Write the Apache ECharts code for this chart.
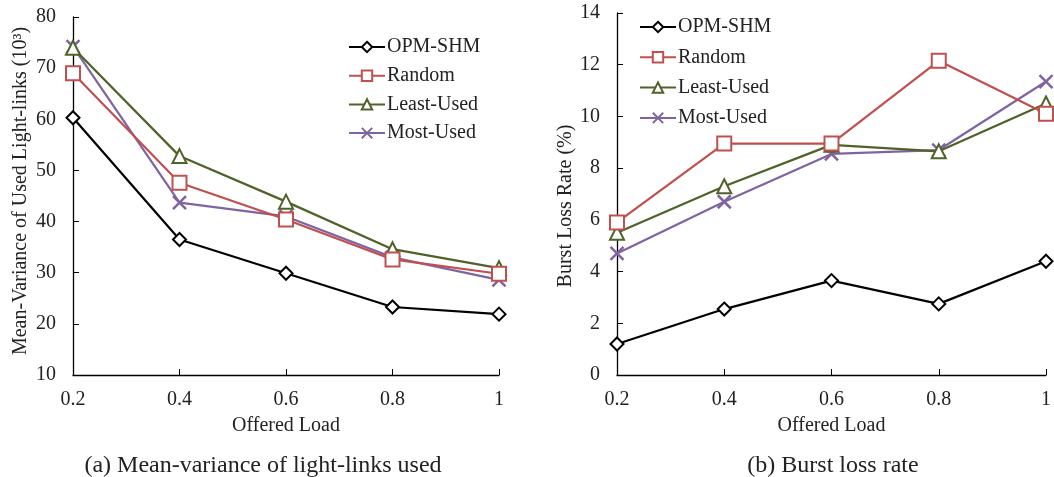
<!DOCTYPE html>
<html><head><meta charset="utf-8">
<script src="https://cdn.jsdelivr.net/npm/echarts@6/dist/echarts.min.js"></script>
<style>html,body{margin:0;padding:0;background:#fff}#c{width:1054px;height:477px}</style>
</head><body><div id="c"></div>
<script>
const loads = [0.2, 0.4, 0.6, 0.8, 1];
const seriesNames = ['OPM-SHM', 'Random', 'Least-Used', 'Most-Used'];
// (a) Mean-variance of used light-links (10^3)
const mvOPM = [60.3, 36.5, 29.9, 23.3, 21.9];
const mvRandom = [69.0, 47.6, 40.4, 32.6, 29.8];
const mvLeast = [74.0, 52.8, 43.9, 34.6, 30.9];
const mvMost = [74.2, 43.7, 41.0, 33.0, 28.6];
// (b) Burst loss rate (%)
const blOPM = [1.2, 2.55, 3.65, 2.75, 4.4];
const blRandom = [5.9, 8.95, 8.95, 12.15, 10.1];
const blLeast = [5.5, 7.3, 8.9, 8.65, 10.5];
const blMost = [4.7, 6.7, 8.55, 8.7, 11.35];

const colors = ['#000000', '#C0504D', '#4F6228', '#8064A2'];
const symbols = ['emptyDiamond', 'emptyRect', 'emptyTriangle', 'path://M0,0L10,10M10,0L0,10'];
const symSizes = [13, 14, 14, 13];
const font = 'Liberation Serif';

function pair(vals){ return loads.map((x,i)=>[x, vals[i]]); }
function mk(idx, vals, gi){
  return {
    name: seriesNames[idx], type: 'line', xAxisIndex: gi, yAxisIndex: gi,
    data: pair(vals), symbol: symbols[idx], symbolSize: symSizes[idx],
    lineStyle: {color: colors[idx], width: 2.2},
    itemStyle: idx===3
      ? {color: 'rgba(0,0,0,0)', borderColor: colors[idx], borderWidth: 2.5}
      : {color: colors[idx], borderColor: colors[idx], borderWidth: 2.5},
    emphasis: {disabled: true}, animation: false, z: 10 - idx
  };
}
function xAx(gi){
  return {gridIndex: gi, type: 'value', min: 0.2, max: 1, interval: 0.2,
    name: 'Offered Load', nameLocation: 'middle', nameGap: 41,
    nameTextStyle: {fontFamily: font, fontSize: 20, color: '#222'},
    axisLine: {lineStyle: {color: '#000', width: 1.3}},
    axisTick: {inside: true, length: 6, lineStyle: {color: '#000'}},
    axisLabel: {fontFamily: font, fontSize: 20, color: '#222', margin: 15,
      formatter: v => (Math.round(v*10)/10).toString()},
    splitLine: {show: false}};
}
function yAx(gi, min, max, interval, name, gap, fs, pad){
  return {gridIndex: gi, type: 'value', min: min, max: max, interval: interval,
    name: name, nameLocation: 'middle', nameGap: gap, nameRotate: 90,
    nameTextStyle: {fontFamily: font, fontSize: fs, color: '#222', padding: pad},
    axisLine: {show: true, lineStyle: {color: '#000', width: 1.3}},
    axisTick: {show: true, inside: true, length: 6, lineStyle: {color: '#000'}},
    axisLabel: {fontFamily: font, fontSize: 20, color: '#222', margin: 17},
    splitLine: {show: false}};
}
const legendBase = {
  orient: 'vertical', itemWidth: 36, itemHeight: 13, itemGap: 9,
  textStyle: {fontFamily: font, fontSize: 20, color: '#222', padding: [0,0,0,-3]},
  selectedMode: false
};
const chart = echarts.init(document.getElementById('c'));
chart.setOption({
  animation: false,
  backgroundColor: '#fff',
  title: [
    {text: '(a) Mean-variance of light-links used', left: 258, top: 449, textAlign: 'center',
      textStyle: {fontFamily: font, fontSize: 24, fontWeight: 'normal', color: '#222'}},
    {text: '(b) Burst loss rate', left: 828, top: 449, textAlign: 'center',
      textStyle: {fontFamily: font, fontSize: 24, fontWeight: 'normal', color: '#222'}}
  ],
  grid: [
    {left: 73, right: 555, top: 17, bottom: 102},
    {left: 617, right: 5, top: 13, bottom: 102}
  ],
  legend: [
    Object.assign({}, legendBase, {data: seriesNames.slice(), left: 343, top: 32, itemGap: 8.7}),
    Object.assign({}, legendBase, {data: seriesNames.slice(), left: 634, top: 12, itemGap: 10.3})
  ],
  xAxis: [xAx(0), xAx(1)],
  yAxis: [
    yAx(0, 10, 80, 10, 'Mean-Variance of Used Light-links (10³)', 42, 20, [0, 0, 0, 10]),
    yAx(1, 0, 14, 2, 'Burst Loss Rate (%)', 41, 20, [0, 24, 0, 0])
  ],
  series: [
    mk(0, mvOPM, 0), mk(1, mvRandom, 0), mk(2, mvLeast, 0), mk(3, mvMost, 0),
    mk(0, blOPM, 1), mk(1, blRandom, 1), mk(2, blLeast, 1), mk(3, blMost, 1)
  ]
});
</script></body></html>
